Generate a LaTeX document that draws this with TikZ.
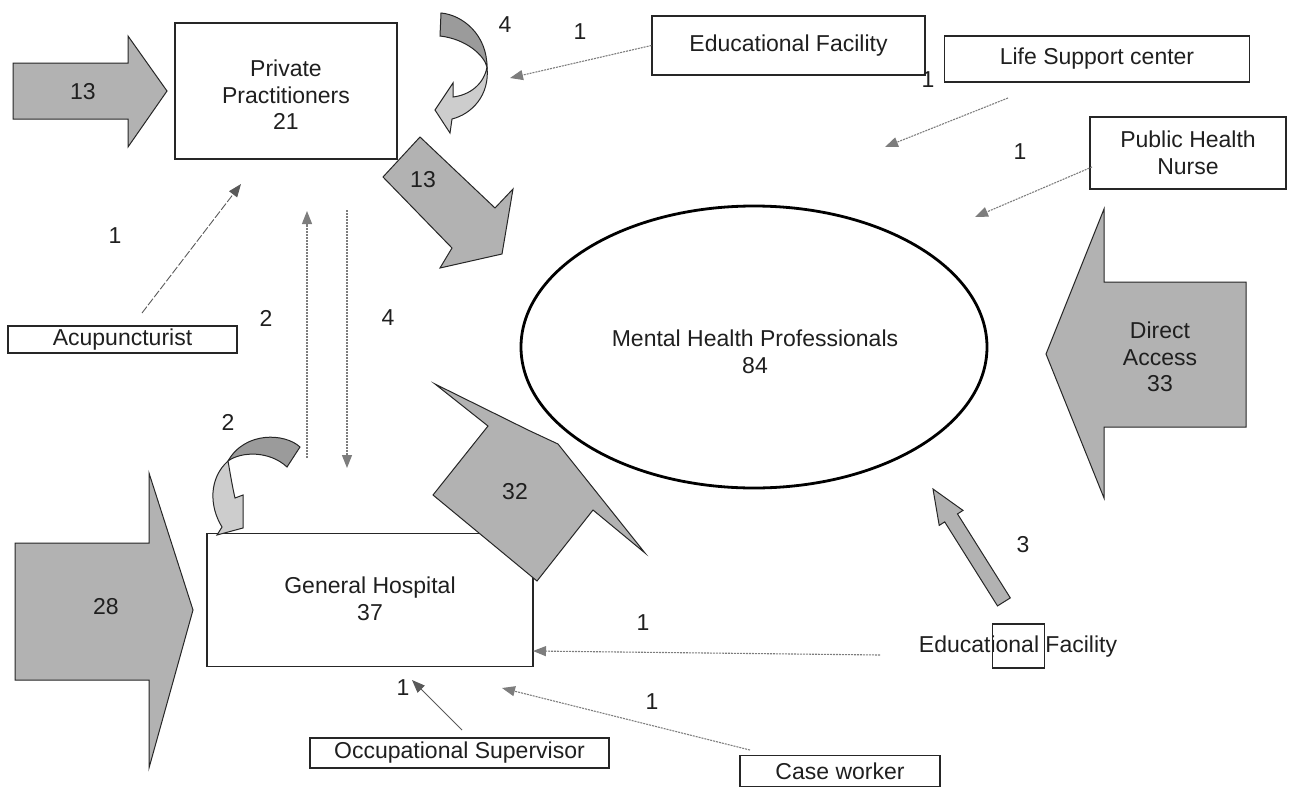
\documentclass[tikz,border=0pt]{standalone}
\usepackage{fontspec}
\setmainfont{Liberation Sans}
\usetikzlibrary{arrows.meta,shapes.geometric}

\definecolor{flowfill}{RGB}{178,178,178}
\definecolor{flowdark}{RGB}{155,155,155}
\definecolor{flowlight}{RGB}{205,205,205}
\definecolor{refline}{RGB}{125,125,125}

\tikzset{
  txt/.style={font=\fontsize{23}{26.5}\selectfont, align=center, inner sep=0pt, text=black!88},
  frame/.style={draw=black!85, line width=1.2pt, inner sep=0pt},
  flow/.style={fill=flowfill, draw=black!85, line width=1pt, line join=miter},
  flowback/.style={fill=flowdark, draw=black!85, line width=1pt, line join=miter},
  flowfront/.style={fill=flowlight, draw=black!85, line width=1pt, line join=miter},
  tipgray/.style={-{Triangle[length=13pt,width=10pt]}},
  refer/.style={draw=refline, line width=1.1pt, dash pattern=on 2pt off 1pt, tipgray},
  referdash/.style={draw=black!65, line width=0.9pt, dash pattern=on 8pt off 2pt, tipgray},
  refersolid/.style={draw=black!65, line width=0.9pt, tipgray},
}

\begin{document}
\begin{tikzpicture}[x=1pt,y=-1pt]
\useasboundingbox (0,0) rectangle (1296,787);

% ---------- boxes ----------
\node[frame, minimum width=222pt, minimum height=136pt] (pp) at (286,91) {};
\node[txt] (ppText) at (286,95) {Private\\Practitioners\\21};

\node[frame, minimum width=326pt, minimum height=133pt] (gh) at (370,600) {};
\node[txt] (ghText) at (370,599) {General Hospital\\37};

\node[frame, txt, minimum width=273pt, minimum height=59pt] (eduTop) at (788.5,45.5) {Educational Facility};
\node[frame, txt, minimum width=305pt, minimum height=46pt] (life) at (1097,59) {Life Support center};
\node[frame, txt, minimum width=196pt, minimum height=72pt] (phn) at (1188,153) {Public Health\\Nurse};
\node[frame, txt, minimum width=229pt, minimum height=27pt] (acu) at (122.5,339.5) {Acupuncturist};
\node[frame, txt, minimum width=299pt, minimum height=30pt] (occ) at (459.5,753) {Occupational Supervisor};
\node[frame, txt, minimum width=200pt, minimum height=31pt] (case) at (840,771) {Case worker};

\node[txt] (eduBot) at (1018,647) {Educational Facility};
\node[frame, minimum width=52pt, minimum height=44pt] (eduBotBox) at (1018.5,646) {};

% ---------- central ellipse ----------
\node[draw=black, line width=2.8pt, ellipse, minimum width=466pt, minimum height=282pt] (mhp) at (754,347) {};
\node[txt] (mhpText) at (755,352) {Mental Health Professionals\\84};

% ---------- block arrows ----------
\draw[flow] (13,63) -- (128,63) -- (128,36) -- (167,91) -- (128,147) -- (128,119) -- (13,119) -- cycle;
\node[txt] (n13a) at (83,92) {13};

\draw[flow] (15,543) -- (149,543) -- (149,473) -- (193,610) -- (149,768) -- (149,680) -- (15,680) -- cycle;
\node[txt] (n28) at (106,607) {28};

\draw[flow] (1246,282) -- (1104,282) -- (1104,209) -- (1046,354) -- (1104,498) -- (1104,427) -- (1246,427) -- cycle;
\node[txt] (direct) at (1160,357) {Direct\\Access\\33};

\draw[flow] (420,137) -- (495,208) -- (513,189) -- (502,254) -- (440,268) -- (452,248) -- (383,177) -- cycle;
\node[txt] (n13b) at (423,180) {13};

\draw[flow] (435,384) -- (528,430) -- (558,444) -- (645,553) -- (593,510) -- (537,581) -- (433,495) -- (488,426) -- cycle;
\node[txt] (n32) at (515,492) {32};

\draw[flow] (997.5,605.9) -- (944.7,521.9) -- (939.2,525.4) -- (933,489) -- (963,510.4) -- (957.5,513.9) -- (1010.3,597.9) -- cycle;

% ---------- curved self-referral arrows ----------
% top: Private Practitioners
\draw[flowback] (441,13) .. controls (463,15) and (487,35) .. (487,67)
  .. controls (484,55) and (466,39) .. (440,36) -- cycle;
\draw[flowfront] (487,67) .. controls (490,95) and (472,114) .. (452,119)
  -- (450,133) -- (435,110) -- (453,83) -- (453,97)
  .. controls (470,95) and (484,84) .. (487,67) -- cycle;
% lower: General Hospital
\draw[flowback] (300,447) .. controls (285,433) and (245,431) .. (228,461)
  .. controls (242,451) and (270,451) .. (287,467) -- cycle;
\draw[flowfront] (228,461) .. controls (209,478) and (209,506) .. (222,527)
  -- (217,535) -- (243,528) -- (243,495) -- (235,498)
  .. controls (232,485) and (230,472) .. (228,461) -- cycle;

% ---------- referral links ----------
\coordinate (ppIn) at (510,78);
\coordinate (lifeOut) at (1008,98);
\coordinate (lifeIn) at (885,147);
\coordinate (phnOut) at (1092,167);
\coordinate (phnIn) at (975,217);
\coordinate (acuOut) at (142,313);
\coordinate (acuIn) at (241,184);
\coordinate (upOut) at (307,458);
\coordinate (upIn) at (307,211);
\coordinate (downOut) at (347,210);
\coordinate (downIn) at (347,468);
\coordinate (eduOut) at (880,655);
\coordinate (ghRight) at (533,651);
\coordinate (occOut) at (462,730);
\coordinate (occIn) at (412,680);
\coordinate (caseOut) at (750,750);
\coordinate (caseIn) at (502,688);

\draw[refer] (eduTop.west) -- (ppIn);
\draw[refer] (lifeOut) -- (lifeIn);
\draw[refer] (phnOut) -- (phnIn);
\draw[referdash] (acuOut) -- (acuIn);
\draw[refer] (upOut) -- (upIn);
\draw[refer] (downOut) -- (downIn);
\draw[refer] (eduOut) -- (ghRight);
\draw[refersolid] (occOut) -- (occIn);
\draw[refer] (caseOut) -- (caseIn);

% ---------- counts ----------
\node[txt] (c4top) at (505,25) {4};
\node[txt] (c1edu) at (580,32) {1};
\node[txt] (c1life) at (928,80) {1};
\node[txt] (c1phn) at (1020,152) {1};
\node[txt] (c1acu) at (115,236) {1};
\node[txt] (c2up) at (266,318) {2};
\node[txt] (c4down) at (388,318) {4};
\node[txt] (c2self) at (228,422) {2};
\node[txt] (c3) at (1023,545) {3};
\node[txt] (c1eduB) at (643,623) {1};
\node[txt] (c1occ) at (403,688) {1};
\node[txt] (c1case) at (652,702) {1};
\end{tikzpicture}
\end{document}
